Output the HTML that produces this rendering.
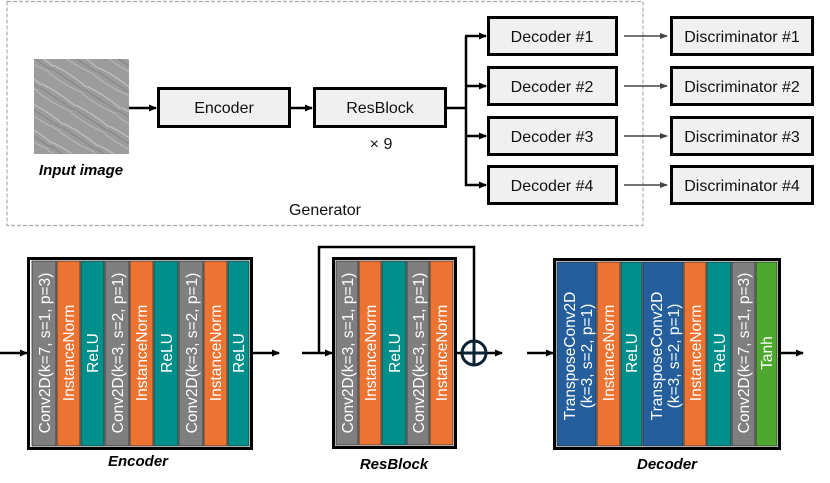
<!DOCTYPE html>
<html><head><meta charset="utf-8"><style>
body{margin:0;background:#fff}
svg{display:block;font-family:"Liberation Sans",sans-serif}
</style></head><body>
<svg width="830" height="483" viewBox="0 0 830 483">
<defs>
<marker id="a" markerWidth="8" markerHeight="8" refX="7" refY="4" orient="auto" markerUnits="userSpaceOnUse"><path d="M0,0.5 L8,4 L0,7.5z" fill="#000"/></marker>
<marker id="g" markerWidth="8" markerHeight="8" refX="7" refY="4" orient="auto" markerUnits="userSpaceOnUse"><path d="M0,1 L8,4 L0,7z" fill="#444"/></marker>
<pattern id="cells" width="40" height="22" patternUnits="userSpaceOnUse" patternTransform="rotate(32)"><rect width="40" height="22" fill="#9c9c9c"/><path d="M0,5 Q20,3 40,6" stroke="#c4c4c4" stroke-width="1.2" fill="none"/><path d="M0,14 Q20,16 40,13" stroke="#bbb" stroke-width="1" fill="none"/><path d="M0,9 L40,10" stroke="#7a7a7a" stroke-width="0.8"/></pattern>
</defs>
<rect x="7" y="1.5" width="636" height="224" fill="none" stroke="#aaa" stroke-width="1.2" stroke-dasharray="4,2"/>
<rect x="34" y="59" width="95" height="95" fill="url(#cells)"/>
<text x="81" y="175" font-size="15" font-weight="bold" font-style="italic" text-anchor="middle">Input image</text>
<g stroke="#000" stroke-width="2.5" fill="none">
<line x1="129" y1="108" x2="156" y2="108" marker-end="url(#a)"/>
<line x1="290" y1="108" x2="312" y2="108" marker-end="url(#a)"/>
<line x1="446" y1="108" x2="466" y2="108"/>
<line x1="466" y1="36" x2="466" y2="186"/>
<line x1="465" y1="36" x2="486" y2="36" marker-end="url(#a)"/>
<line x1="465" y1="86" x2="486" y2="86" marker-end="url(#a)"/>
<line x1="465" y1="136" x2="486" y2="136" marker-end="url(#a)"/>
<line x1="465" y1="185" x2="486" y2="185" marker-end="url(#a)"/>
</g>
<g fill="#f0f0f0" stroke="#000" stroke-width="3">
<rect x="158.5" y="88.5" width="131" height="38"/>
<rect x="314.5" y="88.5" width="131" height="38"/>
<rect x="488.5" y="17.5" width="128" height="37"/>
<rect x="488.5" y="67.5" width="128" height="37"/>
<rect x="488.5" y="117.5" width="128" height="37"/>
<rect x="488.5" y="166.5" width="128" height="37"/>
<rect x="671.5" y="17.5" width="141" height="37"/>
<rect x="671.5" y="67.5" width="141" height="37"/>
<rect x="671.5" y="117.5" width="141" height="37"/>
<rect x="671.5" y="166.5" width="141" height="37"/>
</g>
<g stroke="#444" stroke-width="1.5">
<line x1="624" y1="36" x2="667" y2="36" marker-end="url(#g)"/>
<line x1="624" y1="86" x2="667" y2="86" marker-end="url(#g)"/>
<line x1="624" y1="136" x2="667" y2="136" marker-end="url(#g)"/>
<line x1="624" y1="185" x2="667" y2="185" marker-end="url(#g)"/>
</g>
<g font-size="16" text-anchor="middle" fill="#111">
<text x="224" y="113">Encoder</text>
<text x="380" y="113">ResBlock</text>
<text x="381" y="149">× 9</text>
<text x="552" y="42">Decoder #1</text>
<text x="552" y="92">Decoder #2</text>
<text x="552" y="142">Decoder #3</text>
<text x="552" y="191">Decoder #4</text>
<text x="742" y="42">Discriminator #1</text>
<text x="742" y="92">Discriminator #2</text>
<text x="742" y="142">Discriminator #3</text>
<text x="742" y="191">Discriminator #4</text>
<text x="325" y="215">Generator</text>
</g>

<!-- Encoder -->
<rect x="28.5" y="258.5" width="223" height="190" fill="#fff" stroke="#000" stroke-width="3"/>
<g stroke="#333" stroke-width="0.8">
<rect x="32" y="261" width="24" height="185" fill="#7f7f7f"/>
<rect x="57" y="261" width="23" height="185" fill="#ec7332"/>
<rect x="81" y="261" width="23" height="185" fill="#008f8b"/>
<rect x="105" y="261" width="24" height="185" fill="#7f7f7f"/>
<rect x="130" y="261" width="23" height="185" fill="#ec7332"/>
<rect x="154" y="261" width="24" height="185" fill="#008f8b"/>
<rect x="179" y="261" width="24" height="185" fill="#7f7f7f"/>
<rect x="204" y="261" width="23" height="185" fill="#ec7332"/>
<rect x="228" y="261" width="21" height="185" fill="#008f8b"/>
</g>
<g stroke="#000" stroke-width="2.5">
<line x1="0" y1="353" x2="27" y2="353" marker-end="url(#a)"/>
<line x1="252" y1="353" x2="279" y2="353" marker-end="url(#a)"/>
</g>
<g fill="#fff" font-size="15.5" text-anchor="middle">
<text transform="translate(50,353) rotate(-90)">Conv2D(k=7, s=1, p=3)</text>
<text transform="translate(74,353) rotate(-90)">InstanceNorm</text>
<text transform="translate(98,353) rotate(-90)">ReLU</text>
<text transform="translate(123,353) rotate(-90)">Conv2D(k=3, s=2, p=1)</text>
<text transform="translate(147,353) rotate(-90)">InstanceNorm</text>
<text transform="translate(172,353) rotate(-90)">ReLU</text>
<text transform="translate(197,353) rotate(-90)">Conv2D(k=3, s=2, p=1)</text>
<text transform="translate(221,353) rotate(-90)">InstanceNorm</text>
<text transform="translate(244,353) rotate(-90)">ReLU</text>
</g>
<text x="138" y="466" font-size="15" font-weight="bold" font-style="italic" text-anchor="middle">Encoder</text>

<!-- ResBlock -->
<rect x="333.5" y="258.5" width="122" height="189" fill="#fff" stroke="#000" stroke-width="3"/>
<g stroke="#333" stroke-width="0.8">
<rect x="336" y="261" width="22" height="184" fill="#7f7f7f"/>
<rect x="359" y="261" width="22" height="184" fill="#ec7332"/>
<rect x="382" y="261" width="24" height="184" fill="#008f8b"/>
<rect x="407" y="261" width="22" height="184" fill="#7f7f7f"/>
<rect x="430" y="261" width="23" height="184" fill="#ec7332"/>
</g>
<g stroke="#000" stroke-width="2.5" fill="none">
<line x1="302" y1="353" x2="332" y2="353" marker-end="url(#a)"/>
<polyline points="319,353 319,247 474,247 474,341"/>
<line x1="456" y1="353" x2="462" y2="353"/>
<line x1="486" y1="353" x2="502" y2="353" marker-end="url(#a)"/>
</g>
<circle cx="474" cy="353" r="12" fill="none" stroke="#0b2233" stroke-width="3"/>
<line x1="462" y1="353" x2="486" y2="353" stroke="#0b2233" stroke-width="3"/>
<line x1="474" y1="341" x2="474" y2="365" stroke="#0b2233" stroke-width="3"/>
<g fill="#fff" font-size="15.5" text-anchor="middle">
<text transform="translate(353,353) rotate(-90)">Conv2D(k=3, s=1, p=1)</text>
<text transform="translate(376,353) rotate(-90)">InstanceNorm</text>
<text transform="translate(400,353) rotate(-90)">ReLU</text>
<text transform="translate(424,353) rotate(-90)">Conv2D(k=3, s=1, p=1)</text>
<text transform="translate(447,353) rotate(-90)">InstanceNorm</text>
</g>
<text x="394" y="469" font-size="15" font-weight="bold" font-style="italic" text-anchor="middle">ResBlock</text>

<!-- Decoder -->
<rect x="554.5" y="259.5" width="225" height="189" fill="#fff" stroke="#000" stroke-width="3"/>
<g stroke="#333" stroke-width="0.8">
<rect x="557" y="262" width="39" height="184" fill="#245e9c"/>
<rect x="597" y="262" width="23" height="184" fill="#ec7332"/>
<rect x="621" y="262" width="21" height="184" fill="#008f8b"/>
<rect x="643" y="262" width="40" height="184" fill="#245e9c"/>
<rect x="684" y="262" width="22" height="184" fill="#ec7332"/>
<rect x="707" y="262" width="24" height="184" fill="#008f8b"/>
<rect x="732" y="262" width="23" height="184" fill="#7f7f7f"/>
<rect x="756" y="262" width="21" height="184" fill="#4ea72e"/>
</g>
<g stroke="#000" stroke-width="2.5">
<line x1="527" y1="353" x2="553" y2="353" marker-end="url(#a)"/>
<line x1="781" y1="353" x2="803" y2="353" marker-end="url(#a)"/>
</g>
<g fill="#fff" font-size="15.5" text-anchor="middle">
<text transform="translate(575,356) rotate(-90)">TransposeConv2D</text>
<text transform="translate(592,356) rotate(-90)">(k=3, s=2, p=1)</text>
<text transform="translate(614,353) rotate(-90)">InstanceNorm</text>
<text transform="translate(637,353) rotate(-90)">ReLU</text>
<text transform="translate(662,356) rotate(-90)">TransposeConv2D</text>
<text transform="translate(679,356) rotate(-90)">(k=3, s=2, p=1)</text>
<text transform="translate(701,353) rotate(-90)">InstanceNorm</text>
<text transform="translate(725,353) rotate(-90)">ReLU</text>
<text transform="translate(749,353) rotate(-90)">Conv2D(k=7, s=1, p=3)</text>
<text transform="translate(772,353) rotate(-90)">Tanh</text>
</g>
<text x="667" y="469" font-size="15" font-weight="bold" font-style="italic" text-anchor="middle">Decoder</text>
</svg>
</body></html>
